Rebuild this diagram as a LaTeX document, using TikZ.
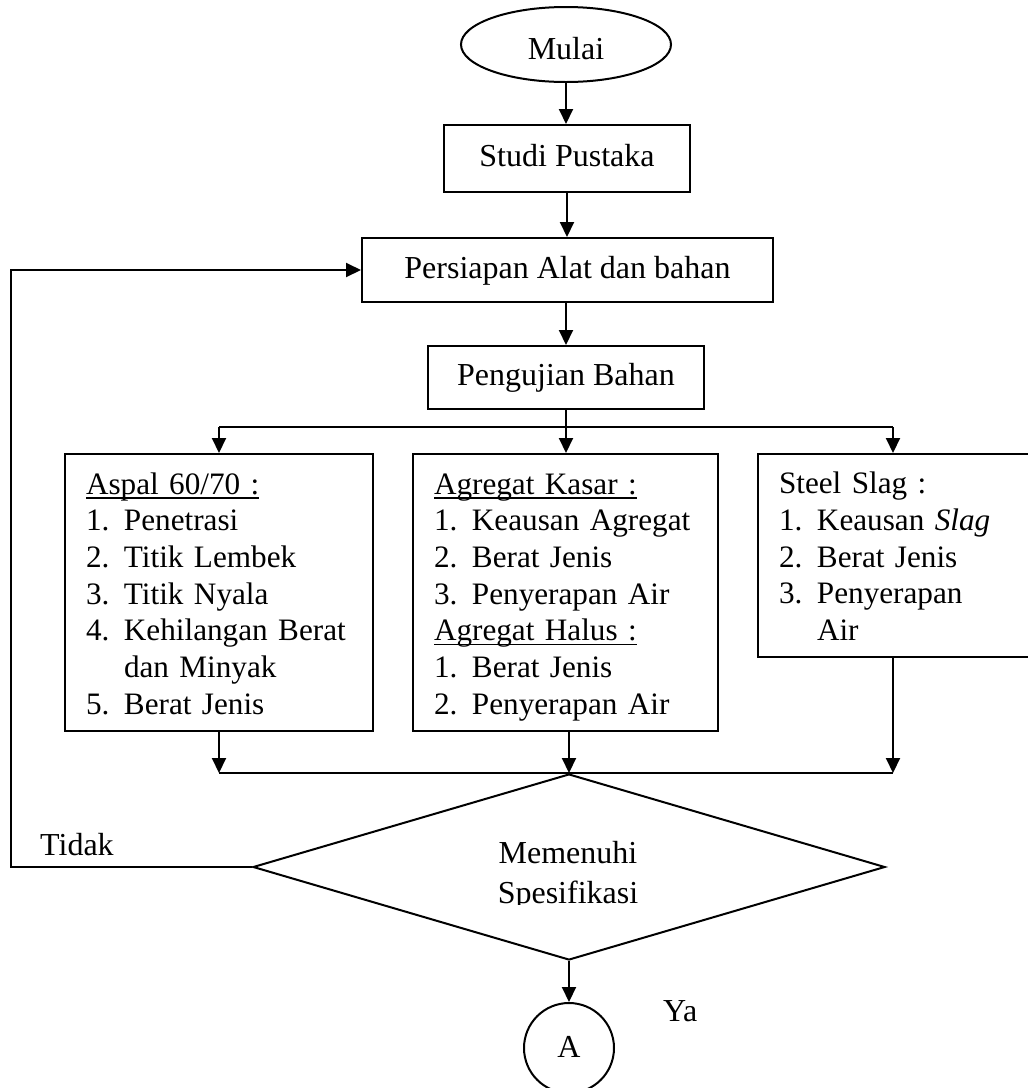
\documentclass[tikz,border=0pt]{standalone}
\usepackage{fontspec}
\setmainfont{Liberation Serif}
\usetikzlibrary{arrows.meta,shapes.geometric,calc}

% body type and list helpers
\newcommand\bodyfs{\fontsize{32pt}{36.7pt}\selectfont}
\newcommand\listfs{\fontsize{31.2pt}{36.7pt}\selectfont}
\newcommand\numitem[2]{\mbox{\makebox[38pt][l]{#1}#2}}
\newcommand\contline[1]{\mbox{\hspace*{38pt}#1}}
\newcommand\hdul[1]{\leavevmode\setbox0\hbox{#1}\rlap{\rule[-4.5pt]{\wd0}{1.6pt}}\box0}
\newcommand\topstrut{\rule{0pt}{30.5pt}}
\newcommand\botstrut{\rule[-7pt]{0pt}{7pt}}

\begin{document}
\begin{tikzpicture}[x=1pt,y=-1pt,
  every node/.style={font=\bodyfs},
  flowline/.style={line width=2pt},
  flowarrow/.style={line width=2pt,-{Triangle[length=15pt,width=14pt]}},
  procbox/.style={draw,line width=2pt,rectangle,inner sep=0pt,
    text height=22pt,text depth=6pt},
  listbox/.style={draw,line width=2pt,rectangle,anchor=north west,
    align=left,inner xsep=21pt,inner ysep=0pt,font=\listfs},
  startend/.style={draw,line width=2pt,ellipse,inner sep=0pt,
    minimum width=210pt,minimum height=75pt,text height=30pt,text depth=0pt},
  decision/.style={draw,line width=2pt,diamond,inner sep=0pt,
    minimum width=632pt,minimum height=186pt},
  connector/.style={draw,line width=2pt,circle,inner sep=0pt,
    minimum size=90pt,text height=22pt,text depth=4pt}
]
\useasboundingbox (0,0) rectangle (1028,1088);

% main sequence
\node[startend] (mulai) at (566,44.5) {Mulai};
\node[procbox,minimum width=246pt,minimum height=67pt] (studi) at (567,158.5) {Studi Pustaka};
\node[procbox,minimum width=411pt,minimum height=64pt] (persiapan) at (567.5,270) {Persiapan Alat dan bahan};
\node[procbox,minimum width=276pt,minimum height=63pt] (uji) at (566,377.5) {Pengujian Bahan};

% material test lists
\node[listbox,minimum width=308pt,minimum height=277pt,text width=266pt] (aspal) at (64,453)
  {\topstrut\hdul{Aspal 60/70 :}\\
   \numitem{1.}{Penetrasi}\\
   \numitem{2.}{Titik Lembek}\\
   \numitem{3.}{Titik Nyala}\\
   \numitem{4.}{Kehilangan Berat}\\
   \contline{dan Minyak}\\
   \numitem{5.}{Berat Jenis}\botstrut};
\node[listbox,minimum width=305pt,minimum height=277pt,text width=263pt] (agregat) at (412,453)
  {\topstrut\hdul{Agregat Kasar :}\\
   \numitem{1.}{Keausan Agregat}\\
   \numitem{2.}{Berat Jenis}\\
   \numitem{3.}{Penyerapan Air}\\
   \hdul{Agregat Halus :}\\
   \numitem{1.}{Berat Jenis}\\
   \numitem{2.}{Penyerapan Air}\botstrut};
\node[listbox,minimum width=300pt,minimum height=203pt,text width=258pt] (steel) at (757,453)
  {\topstrut Steel Slag :\\
   \numitem{1.}{Keausan \textit{Slag}}\\
   \numitem{2.}{Berat Jenis}\\
   \numitem{3.}{Penyerapan}\\
   \contline{Air}\botstrut};

% decision and off-page connector
\node[decision] (dec) at (569,867) {};
\begin{scope}
  \clip (400,830) rectangle (740,904);
  \node[align=center,anchor=north,inner sep=0pt,
        font=\fontsize{32pt}{40pt}\selectfont] (dectext) at (568,841) {Memenuhi\\Spesifikasi};
\end{scope}
\node[connector] (conn) at (569,1048) {A};

\node[anchor=base west,inner sep=0pt] (tidak) at (40,855) {Tidak};
\node[anchor=base west,inner sep=0pt] (ya) at (663,1021) {Ya};

% connectors
\draw[flowarrow] (mulai.south) -- (mulai.south |- studi.north);
\draw[flowarrow] (studi.south) -- (studi.south |- persiapan.north);
\draw[flowarrow] (persiapan.south -| uji.north) -- (uji.north);

\coordinate (split) at ($(uji.south)+(0,17)$);
\coordinate (steelin) at ($(steel.north west)+(136,0)$);
\coordinate (steelout) at ($(steel.south west)+(136,0)$);
\draw[flowline] (uji.south) -- (split);
\draw[flowline] (aspal.north |- split) -- (steelin |- split);
\draw[flowarrow] (aspal.north |- split) -- (aspal.north);
\draw[flowarrow] (split) -- (split |- agregat.north);
\draw[flowarrow] (steelin |- split) -- (steelin);

\draw[flowarrow] (aspal.south) -- (aspal.south |- dec.north);
\draw[flowarrow] (agregat.south -| dec.north) -- (dec.north);
\draw[flowarrow] (steelout) -- (steelout |- dec.north);
\draw[flowline] (aspal.south |- dec.north) -- (steelout |- dec.north);

\coordinate (loopcorner) at (11,867);
\draw[flowarrow] (dec.west) -- (loopcorner) |- (persiapan.west);
\draw[flowarrow] (dec.south) -- (dec.south |- conn.north);
\end{tikzpicture}
\end{document}
